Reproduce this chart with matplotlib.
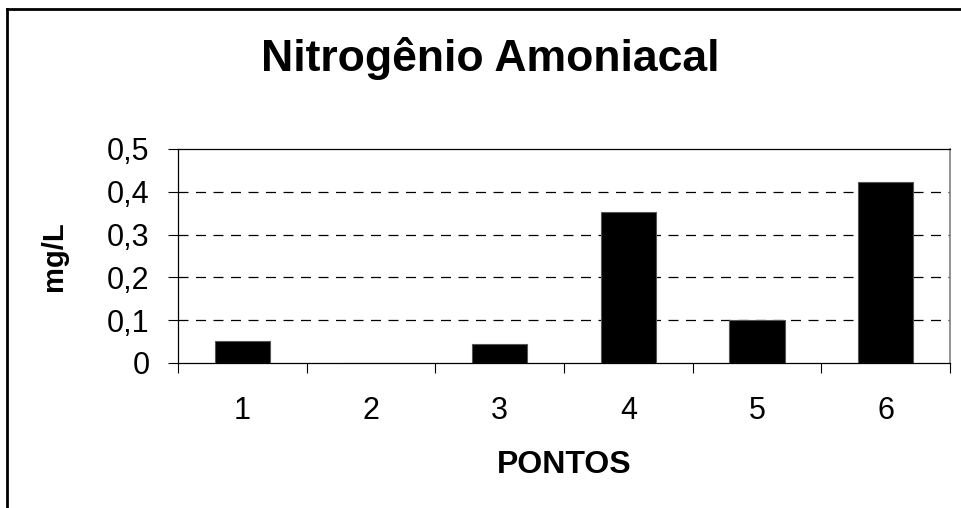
import matplotlib
matplotlib.use("Agg")
import matplotlib.pyplot as plt
from matplotlib.lines import Line2D
from matplotlib.ticker import FixedLocator, FuncFormatter

categories = ["1", "2", "3", "4", "5", "6"]
values = [0.052, 0.0, 0.044, 0.352, 0.100, 0.422]
yticks = [0, 0.1, 0.2, 0.3, 0.4, 0.5]

plt.rcParams['font.family'] = ['Liberation Sans', 'DejaVu Sans']

W, H = 962, 508
fig = plt.figure(figsize=(W / 100, H / 100), dpi=100)
fig.patch.set_facecolor("white")

ax = fig.add_axes([178 / W, 1 - 363 / H, (950 - 178) / W, (363 - 149) / H])

x = list(range(1, len(categories) + 1))
ax.bar(x, values, width=0.43, color="black", edgecolor="#555555", linewidth=0.8, zorder=3)

ax.set_xlim(0.5, len(categories) + 0.5)
ax.set_ylim(0, 0.5)

# x ticks at category boundaries, labels at centers
ax.xaxis.set_major_locator(FixedLocator([i + 0.5 for i in range(len(categories) + 1)]))
ax.xaxis.set_minor_locator(FixedLocator(x))
ax.set_xticklabels([], minor=False)
ax.set_xticklabels(categories, minor=True)
ax.tick_params(axis="x", which="major", direction="out", length=7.5, width=0.8, color="black")
ax.tick_params(axis="x", which="minor", length=0, pad=24, labelsize=22)

ax.set_yticks(yticks)
ax.yaxis.set_major_formatter(FuncFormatter(lambda v, p: ("%g" % v).replace(".", ",")))
ax.tick_params(axis="y", direction="out", length=7.5, width=0.8, pad=13, labelsize=22)

for v in yticks[1:-1]:
    ax.axhline(v, color="black", linestyle=(0, (8, 6)), linewidth=0.9, zorder=1)

for s in ["left", "bottom", "top"]:
    ax.spines[s].set_color("black")
    ax.spines[s].set_linewidth(0.9)
ax.spines["right"].set_color("#808080")
ax.spines["right"].set_linewidth(1.2)

ax.set_xlabel("PONTOS", fontsize=23, fontweight="bold", labelpad=17)
ax.set_ylabel("mg/L", fontsize=21, fontweight="bold", labelpad=28)

fig.text(490 / W, 1 - 59 / H, "Nitrogênio Amoniacal", fontsize=32, fontweight="bold",
         ha="center", va="center")

# figure border (left and top edges visible)
fig.add_artist(Line2D([7.5 / W, 7.5 / W], [0, 1 - 8.5 / H], color="black", linewidth=2,
                      transform=fig.transFigure))
fig.add_artist(Line2D([7.5 / W, 1.0], [1 - 8.5 / H, 1 - 8.5 / H], color="black", linewidth=2,
                      transform=fig.transFigure))

fig.savefig("out.png", dpi=100, facecolor="white")
